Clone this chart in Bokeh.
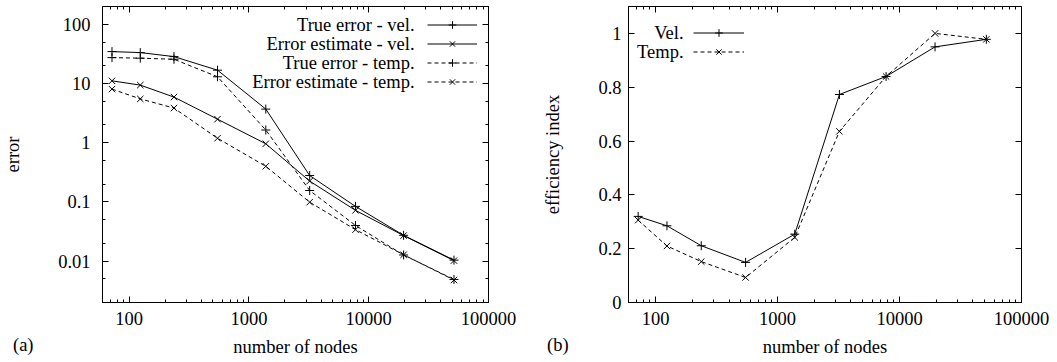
from bokeh.plotting import figure
from bokeh.models import (Range1d, FixedTicker, LogAxis, LinearAxis, Label, Legend,
                          LegendItem, CustomJSTickFormatter, Div)
from bokeh.layouts import row
from bokeh.embed import file_html
from bokeh.resources import INLINE

# ---------------- data ----------------
nodes = [72, 124, 237, 547, 1384, 3216, 7760, 19560, 51500]
true_err_vel = [34.6, 33.3, 28.5, 16.8, 3.7, 0.279, 0.084, 0.0273, 0.0104]
est_err_vel = [11.1, 9.4, 5.9, 2.5, 0.96, 0.225, 0.072, 0.027, 0.0102]
true_err_temp = [27.4, 26.8, 25.7, 13.0, 1.64, 0.156, 0.040, 0.0127, 0.0049]
est_err_temp = [8.05, 5.5, 3.85, 1.19, 0.40, 0.099, 0.034, 0.0128, 0.0048]
eff_vel = [0.32, 0.285, 0.211, 0.149, 0.254, 0.773, 0.84, 0.95, 0.978]
eff_temp = [0.306, 0.21, 0.152, 0.093, 0.242, 0.636, 0.84, 1.0, 0.978]

legend_a = ["True error - vel.", "Error estimate - vel.", "True error - temp.", "Error estimate - temp."]
legend_b = ["Vel.", "Temp."]
panel_tags = ["(a)", "(b)"]

x_major = [100, 1000, 10000, 100000]
x_minor = [60, 70, 80, 90] + [m * 10 ** k for k in (2, 3, 4) for m in range(2, 10)]
ya_major = [0.01, 0.1, 1, 10, 100]
ya_minor = [0.002, 0.005, 0.02, 0.05, 0.2, 0.5, 2, 5, 20, 50, 200]
yb_major = [0, 0.2, 0.4, 0.6, 0.8, 1]

FONT = "Liberation Serif"
FS = "18.5px"
DASH = "4 3"

fmt = CustomJSTickFormatter(code="return tick.toString();")


def style_axis(ax, labels=True, standoff=10):
    ax.axis_line_color = "black"
    ax.axis_line_width = 1
    ax.major_tick_line_color = "black"
    ax.minor_tick_line_color = "black"
    ax.major_tick_line_width = 1
    ax.minor_tick_line_width = 1
    ax.major_tick_in = 6
    ax.major_tick_out = 0
    ax.minor_tick_in = 3
    ax.minor_tick_out = 0
    ax.major_label_text_font = FONT
    ax.axis_label_text_font = FONT
    ax.axis_label_text_font_size = FS
    ax.axis_label_text_font_style = "normal"
    ax.axis_label_text_color = "black"
    if labels:
        ax.major_label_text_color = "black"
        ax.major_label_text_font_size = FS
        ax.major_label_standoff = standoff
        ax.formatter = fmt
    else:
        ax.major_label_text_color = None
        ax.major_label_text_font_size = "1px"
        ax.major_label_standoff = 0


def base_fig(width, mbl, mbr, mbt, mbb, y_type, y_range):
    p = figure(width=width, height=362, x_axis_type="log", y_axis_type=y_type,
               x_range=Range1d(60, 100000), y_range=y_range,
               output_backend="svg", toolbar_location=None,
               min_border_left=mbl, min_border_right=mbr,
               min_border_top=mbt, min_border_bottom=mbb)
    p.xgrid.visible = False
    p.ygrid.visible = False
    p.outline_line_color = "black"
    p.outline_line_width = 1
    p.background_fill_color = "white"
    p.border_fill_color = "white"
    return p


def add_series(p, y, dash, marker):
    l = p.line(nodes, y, line_color="black", line_width=1, line_dash=dash)
    s = p.scatter(nodes, y, marker=marker, size=9, line_color="black", line_width=1)
    return [l, s]


def make_legend(renderers, loc, gw):
    return Legend(items=[LegendItem(label=" ", renderers=r) for r in renderers],
                  location=loc, glyph_width=gw, glyph_height=19,
                  label_width=1, label_height=19, label_standoff=0,
                  padding=0, margin=0, spacing=0, border_line_color=None,
                  background_fill_alpha=0, label_text_font_size="1px",
                  label_text_color=None)


def text_label(x, y, t):
    return Label(x=x, y=y, x_units="screen", y_units="screen", text=t,
                 text_align="right", text_baseline="middle",
                 text_font=FONT, text_font_size=FS, text_color="black")


def tag_div(t, left, top):
    return Div(text=t, styles={"position": "absolute", "left": f"{left}px", "top": f"{top}px",
                               "font-family": FONT, "font-size": FS, "color": "black",
                               "line-height": "normal", "margin": "0", "padding": "0",
                               "white-space": "nowrap"})


# ---------------- panel (a) ----------------
pa = base_fig(540, 101, 52, 6, 60, "log", Range1d(0.002, 200))
xt = FixedTicker(ticks=x_major, minor_ticks=x_minor)
yta = FixedTicker(ticks=ya_major, minor_ticks=ya_minor)
pa.xaxis.ticker = xt
pa.yaxis.ticker = yta
style_axis(pa.xaxis[0], True, 9)
style_axis(pa.yaxis[0], True, 12)
pa.xaxis.axis_label = "number of nodes"
pa.xaxis.axis_label_standoff = 9
pa.yaxis.axis_label = "error"
pa.yaxis.axis_label_standoff = 32
top_a = LogAxis(ticker=xt)
right_a = LogAxis(ticker=yta)
style_axis(top_a, False)
style_axis(right_a, False)
pa.add_layout(top_a, "above")
pa.add_layout(right_a, "right")

ra = [add_series(pa, true_err_vel, "solid", "cross"),
      add_series(pa, est_err_vel, "solid", "x"),
      add_series(pa, true_err_temp, DASH, "cross"),
      add_series(pa, est_err_temp, DASH, "x")]

pa.add_layout(make_legend(ra, (325, 211.5), 50), "center")
for i, t in enumerate(legend_a):
    pa.add_layout(text_label(312, 278 - 19 * i, t))

# ---------------- panel (b) ----------------
pb = base_fig(516, 84, 35, 5, 60, "linear", Range1d(0, 1.1))
xtb = FixedTicker(ticks=x_major, minor_ticks=x_minor)
ytb = FixedTicker(ticks=yb_major, minor_ticks=[])
pb.xaxis.ticker = xtb
pb.yaxis.ticker = ytb
style_axis(pb.xaxis[0], True, 9)
style_axis(pb.yaxis[0], True, 7)
pb.xaxis.axis_label = "number of nodes"
pb.xaxis.axis_label_standoff = 9
pb.yaxis.axis_label = "efficiency index"
pb.yaxis.axis_label_standoff = 32
top_b = LogAxis(ticker=xtb)
right_b = LinearAxis(ticker=ytb)
style_axis(top_b, False)
style_axis(right_b, False)
pb.add_layout(top_b, "above")
pb.add_layout(right_b, "right")

rb = [add_series(pb, eff_vel, "solid", "cross"),
      add_series(pb, eff_temp, DASH, "x")]
pb.add_layout(make_legend(rb, (65, 241.5), 51), "center")
for i, t in enumerate(legend_b):
    pb.add_layout(text_label(55, 269.7 - 19.4 * i, t))

div_a = tag_div(panel_tags[0], 13, 335)
div_b = tag_div(panel_tags[1], 547, 335)

layout = row(pa, pb, div_a, div_b)
open("out.html", "w").write(file_html(layout, INLINE))
